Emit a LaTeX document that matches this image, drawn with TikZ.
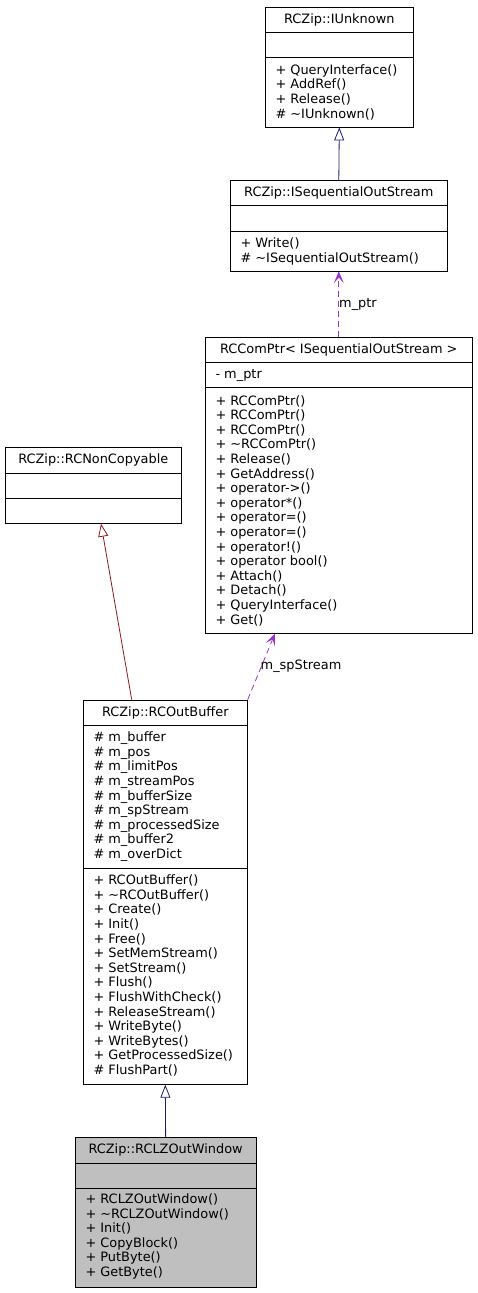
\documentclass[tikz,border=0pt]{standalone}
\usepackage{fontspec}
\setmainfont{DejaVu Sans}
\usetikzlibrary{arrows.meta}
\definecolor{inhblue}{HTML}{191970}
\definecolor{inhred}{HTML}{8B1A1A}
\definecolor{usepurple}{HTML}{9A32CD}
\definecolor{boxgray}{HTML}{BFBFBF}
\tikzset{
  cls/.style={draw=black, line width=0.8pt, rectangle, inner sep=0pt},
  sep/.style={draw=black, line width=0.8pt},
  ttl/.style={inner sep=0pt, anchor=center, font=\fontsize{12.9}{14.6}\selectfont},
  mem/.style={inner sep=0pt, anchor=west, align=left, font=\fontsize{12.9}{14.6}\selectfont},
  inh/.style={-{Triangle[open,length=13pt,width=10pt,fill=white]}, line width=0.8pt},
  use/.style={-{Stealth[length=12pt,width=10pt,inset=6pt]}, draw=usepurple, line width=0.8pt, dash pattern=on 6pt off 4pt},
  lbl/.style={inner sep=0pt, text=black, font=\fontsize{12.9}{14.6}\selectfont},
}
\begin{document}
\begin{tikzpicture}[x=1pt,y=-1pt]
\useasboundingbox (0,0) rectangle (477,1293);
% RCZip::IUnknown
\node[cls, minimum width=148pt, minimum height=119.7pt] (iunk) at (339.3,67.15) {};
\draw[sep] (265.3,32.3) -- (413.3,32.3) (265.3,57.3) -- (413.3,57.3);
\node[ttl] (iunkT) at (339.3,19.8) {RCZip::IUnknown};
\node[mem] (iunkM) at (275.3,92.2) {+ QueryInterface()\\+ AddRef()\\+ Release()\\\# \textasciitilde IUnknown()};
% RCZip::ISequentialOutStream
\node[cls, minimum width=217pt, minimum height=90.3pt] (iseq) at (338.8,225.85) {};
\draw[sep] (230.3,205.3) -- (447.3,205.3) (230.3,231.3) -- (447.3,231.3);
\node[ttl] (iseqT) at (338.8,193) {RCZip::ISequentialOutStream};
\node[mem] (iseqM) at (240.3,251.2) {+ Write()\\\# \textasciitilde ISequentialOutStream()};
% RCComPtr
\node[cls, minimum width=267pt, minimum height=296pt] (ccp) at (338.8,485.3) {};
\draw[sep] (205.3,362.7) -- (472.3,362.7) (205.3,387.3) -- (472.3,387.3);
\node[ttl] (ccpT) at (338.8,350) {RCComPtr< ISequentialOutStream >};
\node[mem] (ccpA) at (215.3,375) {- m\_ptr};
\node[mem] (ccpM) at (215.3,510.5) {+ RCComPtr()\\+ RCComPtr()\\+ RCComPtr()\\+ \textasciitilde RCComPtr()\\+ Release()\\+ GetAddress()\\+ operator->()\\+ operator*()\\+ operator=()\\+ operator=()\\+ operator!()\\+ operator bool()\\+ Attach()\\+ Detach()\\+ QueryInterface()\\+ Get()};
% RCZip::RCNonCopyable
\node[cls, minimum width=176pt, minimum height=76pt] (rnc) at (93.3,485.3) {};
\draw[sep] (5.3,473.3) -- (181.3,473.3) (5.3,498.3) -- (181.3,498.3);
\node[ttl] (rncT) at (93.3,460.3) {RCZip::RCNonCopyable};
% RCZip::RCOutBuffer
\node[cls, minimum width=164pt, minimum height=384.3pt] (rob) at (165.3,892.15) {};
\draw[sep] (83.3,725.3) -- (247.3,725.3) (83.3,868.3) -- (247.3,868.3);
\node[ttl] (robT) at (165.3,712.7) {RCZip::RCOutBuffer};
\node[mem] (robA) at (93.3,796.7) {\# m\_buffer\\\# m\_pos\\\# m\_limitPos\\\# m\_streamPos\\\# m\_bufferSize\\\# m\_spStream\\\# m\_processedSize\\\# m\_buffer2\\\# m\_overDict};
\node[mem] (robM) at (93.3,975.5) {+ RCOutBuffer()\\+ \textasciitilde RCOutBuffer()\\+ Create()\\+ Init()\\+ Free()\\+ SetMemStream()\\+ SetStream()\\+ Flush()\\+ FlushWithCheck()\\+ ReleaseStream()\\+ WriteByte()\\+ WriteBytes()\\+ GetProcessedSize()\\\# FlushPart()};
% RCZip::RCLZOutWindow
\node[cls, fill=boxgray, minimum width=180.7pt, minimum height=150pt] (rlz) at (165.65,1212.3) {};
\draw[sep] (75.3,1163.3) -- (256,1163.3) (75.3,1188.3) -- (256,1188.3);
\node[ttl] (rlzT) at (165.65,1150.3) {RCZip::RCLZOutWindow};
\node[mem] (rlzM) at (85.3,1236.5) {+ RCLZOutWindow()\\+ \textasciitilde RCLZOutWindow()\\+ Init()\\+ CopyBlock()\\+ PutByte()\\+ GetByte()};
% connectors
\draw[inh, draw=inhblue] (iseq.north) -- (iunk.south);
\draw[use] (ccp.north) -- node[lbl, pos=0.5, anchor=west] {m\_ptr} (iseq.south);
\draw[use] (rob.north east) -- node[lbl, pos=0.5, anchor=west, xshift=-1pt] {m\_spStream} ([xshift=70pt]ccp.south west);
\draw[inh, draw=inhred] ([xshift=-33.6pt]rob.north) -- ([xshift=7.7pt]rnc.south);
\draw[inh, draw=inhblue] (rlz.north) -- (rob.south);
\end{tikzpicture}
\end{document}
